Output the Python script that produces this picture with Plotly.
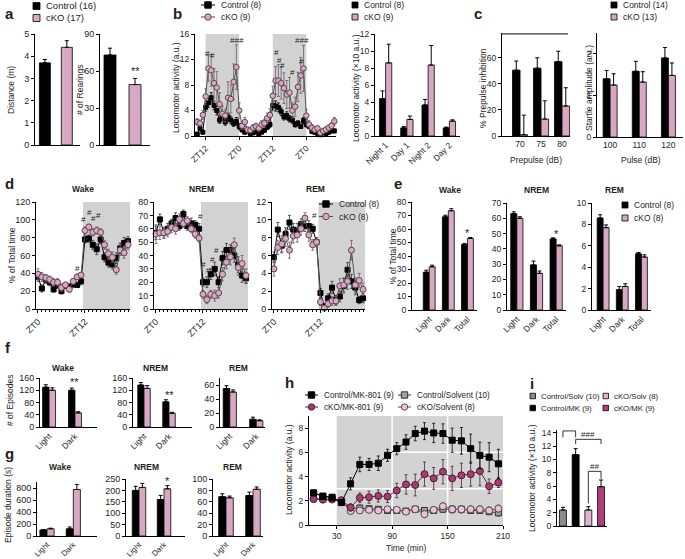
import plotly.graph_objects as go

W, H = 685, 559
FONT = "Liberation Sans, Arial, Helvetica, sans-serif"
TXT = "#1e1e1e"
PINK = "#d8a7c3"
PINK_EDGE = "#5e4652"
SHADE = "#d2d2d2"
TICK = 9
TITLE = 8.5

# ---------------- data ----------------
# a: open field
a_groups = ["Control", "cKO"]
a_distance = [3.7, 4.4]
a_distance_err = [0.15, 0.3]
a_rearings = [73, 49]
a_rearings_err = [5.5, 5.0]

# b: home-cage locomotor activity (hourly)
b_hours = list(range(9, 59))
b_ctrl = [0.3, 1.2, 0.6,
          4.5, 5.2, 6.0, 4.8, 4.0, 2.5, 3.0, 2.2, 3.0, 2.5, 2.0, 2.3, 1.5,
          1.0, 0.6, 0.8, 0.4, 0.5, 0.7, 0.3, 0.6, 0.9, 1.4, 1.8,
          4.8, 4.7, 4.5, 3.8, 3.0, 3.2, 2.7, 2.5, 1.8, 2.0, 1.5, 2.4, 1.8,
          1.5, 0.7, 0.6, 0.4, 0.2, 0.5, 0.4, 0.6, 0.8, 0.8]
b_ctrl_err = [0.2, 0.4, 0.3,
              0.6, 0.7, 0.8, 0.7, 0.7, 0.5, 0.6, 0.5, 0.6, 0.6, 0.5, 0.6, 0.5,
              0.4, 0.3, 0.3, 0.2, 0.3, 0.3, 0.2, 0.3, 0.3, 0.4, 0.5,
              0.7, 0.8, 0.7, 0.6, 0.5, 0.6, 0.5, 0.5, 0.4, 0.4, 0.3, 0.5, 0.4,
              0.4, 0.3, 0.3, 0.2, 0.2, 0.3, 0.2, 0.3, 0.3, 0.3]
b_cko = [2.2, 2.0, 3.3,
         6.2, 10.6, 10.3, 8.3, 7.6, 5.0, 3.5, 3.2, 6.0, 5.8, 8.5, 10.8, 4.0,
         1.6, 2.2, 1.0, 0.9, 1.3, 1.5, 1.2, 1.8, 2.0, 2.8, 3.3,
         6.3, 8.7, 8.7, 8.3, 7.5, 6.5, 6.8, 4.0, 4.6, 7.7, 9.5, 10.6, 3.2,
         1.8, 1.3, 1.0, 1.2, 0.5, 0.8, 1.0, 1.3, 1.6, 2.3]
b_cko_err = [0.5, 0.5, 0.7,
             1.2, 2.0, 2.5, 2.3, 2.5, 1.8, 1.2, 1.0, 2.5, 2.2, 2.8, 3.5, 1.2,
             0.6, 0.7, 0.4, 0.4, 0.5, 0.5, 0.4, 0.6, 0.6, 0.8, 1.0,
             1.5, 2.2, 2.5, 2.5, 2.4, 2.2, 2.4, 1.2, 1.5, 2.3, 2.8, 3.6, 1.0,
             0.6, 0.5, 0.4, 0.4, 0.3, 0.3, 0.4, 0.4, 0.5, 0.6]
b_tickvals = [12, 24, 36, 48]
b_ticktext = ["ZT12", "ZT0", "ZT12", "ZT0"]
b_dark = [(12, 24), (36, 48)]
b_sig = [(12.7, 12.9, "#"), (14.5, 12.6, "#"), (23.3, 15.0, "###"),
         (37.2, 13.1, "#"), (38.4, 11.9, "#"), (39.4, 11.1, "#"),
         (43.2, 9.9, "#"), (46.1, 11.7, "#"), (46.4, 15.0, "###")]

b2_cats = ["Night 1", "Day 1", "Night 2", "Day 2"]
b2_ctrl = [4.4, 0.95, 3.65, 0.95]
b2_ctrl_err = [0.9, 0.15, 0.65, 0.1]
b2_cko = [8.6, 1.95, 8.35, 1.75]
b2_cko_err = [2.2, 0.4, 2.3, 0.15]

# c: prepulse inhibition / startle
c_prepulse = ["70", "75", "80"]
c_ppi_ctrl = [50.5, 52, 57]
c_ppi_ctrl_err = [7, 8, 8]
c_ppi_cko = [1, 13, 23]
c_ppi_cko_err = [15, 14, 14]
c_pulse = ["100", "110", "120"]
c_st_ctrl = [1.4, 1.58, 1.9]
c_st_ctrl_err = [0.2, 0.24, 0.25]
c_st_cko = [1.25, 1.32, 1.48]
c_st_cko_err = [0.27, 0.25, 0.3]

# d: sleep/wake time course
d_zt = list(range(24))
d_wake_ctrl = [36, 23, 33, 30, 22, 27, 20, 26, 25, 28, 27, 31,
               78, 79, 72, 67, 78, 58, 52, 50, 57, 68, 74, 76]
d_wake_cko = [39, 36, 35, 33, 30, 30, 24, 27, 22, 31, 36, 38,
              88, 92, 86, 88, 86, 72, 62, 58, 44, 66, 63, 72]
d_wake_ctrl_err = [5, 4, 4, 4, 3, 4, 3, 3, 3, 4, 3, 4, 4, 4, 5, 6, 5, 5, 5, 5, 6, 6, 6, 5]
d_wake_cko_err = [6, 5, 4, 4, 4, 4, 4, 3, 3, 3, 3, 3, 4, 3, 4, 4, 4, 5, 5, 6, 5, 6, 6, 5]
d_nrem_ctrl = [57, 67, 57, 60, 64, 68, 62, 71, 62, 64, 63, 60,
               20, 20, 26, 30, 20, 38, 44, 44, 40, 33, 25, 23]
d_nrem_cko = [56, 57, 57, 58, 61, 60, 67, 64, 66, 60, 56, 53,
              11, 7, 11, 10, 12, 26, 35, 39, 48, 31, 34, 25]
d_nrem_ctrl_err = [5, 4, 4, 4, 3, 4, 3, 3, 3, 4, 3, 4, 3, 4, 4, 5, 4, 5, 5, 4, 5, 6, 5, 4]
d_nrem_cko_err = [7, 5, 4, 4, 4, 4, 4, 3, 3, 3, 3, 3, 3, 3, 3, 4, 4, 5, 5, 6, 5, 6, 6, 5]
d_rem_ctrl = [5.8, 8.9, 7.1, 8.4, 9.7, 8.9, 8.8, 9.5, 9.3, 9.3, 9.0, 7.5,
              1.8, 0.3, 1.2, 2.4, 1.0, 1.4, 2.6, 4.4, 3.1, 2.4, 1.0, 1.2]
d_rem_cko = [4.5, 6.9, 7.3, 7.9, 6.6, 8.2, 8.3, 9.0, 10.2, 8.3, 7.2, 7.5,
             0.8, 0.1, 0.6, 0.9, 0.9, 2.6, 2.7, 3.1, 6.6, 2.7, 3.2, 2.2]
d_rem_ctrl_err = [0.6, 0.8, 0.8, 0.7, 0.8, 0.7, 0.8, 0.6, 0.6, 0.6, 0.5, 0.5,
                  0.5, 0.3, 0.5, 0.7, 0.5, 0.6, 0.8, 0.8, 0.8, 0.8, 0.4, 0.5]
d_rem_cko_err = [0.8, 0.8, 0.9, 0.9, 0.9, 0.8, 0.8, 0.7, 0.6, 0.7, 0.6, 0.5,
                 0.4, 0.2, 0.4, 0.5, 0.5, 0.8, 0.8, 0.9, 1.1, 0.8, 0.8, 0.7]
d_ticks = [0, 12]
d_ticktext = ["ZT0", "ZT12"]
d_dark = (11.5, 23.5)
d_wake_sig = [(10, 45, "#"), (11.7, 100, "#"), (13.1, 108, "#"), (14.2, 101, "#"), (15.4, 105, "#")]
d_nrem_sig = [(11.4, 69, "#"), (12.2, 33, "#"), (13.4, 29, "#"), (14.4, 37, "#"), (15.5, 44, "#")]
d_rem_sig = [(10.4, 10.5, "#")]

# e: total time
e_cats = ["Light", "Dark", "Total"]
e_wake_ctrl = [28, 69, 48.5]
e_wake_ctrl_err = [1.5, 1.2, 0.8]
e_wake_cko = [32, 73.5, 53]
e_wake_cko_err = [1.2, 1.5, 0.7]
e_nrem_ctrl = [63, 29.5, 46.5]
e_nrem_ctrl_err = [1.2, 2.5, 0.7]
e_nrem_cko = [60, 24, 42]
e_nrem_cko_err = [1.0, 1.5, 0.6]
e_rem_ctrl = [8.6, 1.9, 5.25]
e_rem_ctrl_err = [0.3, 0.3, 0.12]
e_rem_cko = [7.7, 2.2, 4.95]
e_rem_cko_err = [0.25, 0.25, 0.2]

# f: number of episodes
fg_cats = ["Light", "Dark"]
f_wake_ctrl = [130, 120]
f_wake_ctrl_err = [8, 7]
f_wake_cko = [120, 46]
f_wake_cko_err = [8, 4]
f_nrem_ctrl = [137, 82]
f_nrem_ctrl_err = [8, 7]
f_nrem_cko = [126, 45]
f_nrem_cko_err = [9, 3]
f_rem_ctrl = [55, 11]
f_rem_ctrl_err = [4, 3]
f_rem_cko = [50, 9]
f_rem_cko_err = [3, 1.2]

# g: episode duration
g_wake_ctrl = [100, 120]
g_wake_ctrl_err = [8, 30]
g_wake_cko = [120, 775]
g_wake_cko_err = [10, 85]
g_nrem_ctrl = [200, 160]
g_nrem_ctrl_err = [18, 18]
g_nrem_cko = [213, 207]
g_nrem_cko_err = [18, 14]
g_rem_ctrl = [69, 71]
g_rem_ctrl_err = [5, 6]
g_rem_cko = [67, 82]
g_rem_cko_err = [3, 4]

# h: MK-801 time course
h_time = [5, 15, 25, 35, 45, 55, 65, 75, 85, 95, 105, 115, 125, 135, 145, 155, 165, 175, 185, 195, 205]
h_ctrl_mk = [2.65, 2.35, 2.25, 1.85, 3.4, 5.0, 5.0, 5.1, 5.75, 6.3, 6.85, 7.55, 7.75, 7.6, 7.55, 7.0, 6.95, 6.3, 5.75, 5.6, 5.05]
h_ctrl_mk_err = [0.2, 0.2, 0.15, 0.15, 0.5, 0.6, 0.5, 0.6, 0.5, 0.5, 0.6, 0.6, 0.7, 0.8, 0.8, 1.0, 1.1, 1.2, 1.1, 1.2, 1.2]
h_cko_mk = [2.15, 2.1, 2.15, 2.05, 1.45, 2.25, 2.3, 2.4, 2.35, 2.85, 3.35, 3.3, 4.2, 3.85, 4.4, 3.85, 4.1, 4.2, 4.45, 3.2, 3.5]
h_cko_mk_err = [0.15, 0.15, 0.15, 0.15, 0.3, 0.4, 0.5, 0.5, 0.5, 0.6, 0.8, 0.9, 1.0, 0.9, 1.0, 1.0, 1.0, 1.0, 1.2, 0.6, 0.4]
h_ctrl_solv = [2.65, 2.4, 2.3, 1.9, 1.35, 1.4, 1.35, 1.3, 1.2, 1.2, 1.15, 1.3, 1.2, 1.2, 1.3, 1.3, 1.3, 1.2, 1.2, 1.1, 1.0]
h_ctrl_solv_err = [0.15, 0.15, 0.15, 0.15, 0.15, 0.25, 0.2, 0.2, 0.2, 0.2, 0.2, 0.2, 0.2, 0.25, 0.25, 0.3, 0.3, 0.25, 0.25, 0.25, 0.25]
h_cko_solv = [2.15, 2.1, 2.1, 2.0, 1.15, 1.2, 1.25, 1.2, 1.3, 1.25, 1.1, 1.3, 0.9, 1.25, 1.55, 1.3, 1.3, 1.3, 1.3, 1.2, 1.35]
h_cko_solv_err = [0.15, 0.15, 0.15, 0.15, 0.15, 0.2, 0.2, 0.2, 0.2, 0.2, 0.2, 0.25, 0.3, 0.25, 0.3, 0.3, 0.3, 0.3, 0.3, 0.3, 0.3]
h_shade = (30, 210)
h_ticks = [30, 90, 150, 210]

# i: summed activity
i_cats = ["Control/Solv", "Control/MK", "cKO/Solv", "cKO/MK"]
i_vals = [2.4, 10.7, 2.4, 5.9]
i_err = [0.4, 0.9, 0.5, 1.0]
i_colors = ["#8c8c8c", "#000000", "#e0b4cd", "#b23e7c"]
i_brackets = [((0, 13.3), (0, 14.26), (1, 14.26), (1, 13.3)),
              ((1, 12.3), (1, 13.0), (3, 13.0), (3, 12.3)),
              ((2, 3.4), (2, 8.2), (3, 8.2), (3, 7.1))]
i_sig = [(0.5, 15.1, "###"), (2.0, 13.8, "###"), (2.5, 8.9, "##")]

# ---------------- helpers ----------------
fig = go.Figure()
LAYOUT = {}
SHAPES = []
ANNS = []
_n = [0]


def px(x):
    return x / W


def py(y):
    return 1 - y / H


def axes(box, xr, yr, xkw=None, ykw=None, tsize=TICK):
    x0, x1, y0, y1 = box
    _n[0] += 1
    n = _n[0]
    sfx = "" if n == 1 else str(n)
    xid, yid = "x" + sfx, "y" + sfx
    base = dict(showline=True, linecolor="black", linewidth=1, ticks="outside",
                ticklen=3, tickwidth=1, tickcolor="black", showgrid=False,
                zeroline=False, fixedrange=True, automargin=False,
                tickfont=dict(size=tsize, color=TXT, family=FONT))
    xa = dict(base, domain=[px(x0), px(x1)], range=xr, anchor=yid)
    ya = dict(base, domain=[py(y1), py(y0)], range=yr, anchor=xid)
    if xkw:
        xa.update(xkw)
    if ykw:
        ya.update(ykw)
    LAYOUT["xaxis" + sfx] = xa
    LAYOUT["yaxis" + sfx] = ya
    return xid, yid


def text(x, y, s, size=TITLE, bold=False, angle=0, xa="center", ya="middle", color=TXT):
    ANNS.append(dict(x=px(x), y=py(y), xref="paper", yref="paper",
                     text=("<b>%s</b>" % s) if bold else s, showarrow=False,
                     font=dict(size=size, family=FONT, color=color),
                     textangle=angle, xanchor=xa, yanchor=ya))


def dtext(xid, yid, x, y, s, size=9):
    ANNS.append(dict(x=x, y=y, xref=xid, yref=yid, text=s, showarrow=False,
                     font=dict(size=size, family=FONT, color=TXT),
                     xanchor="center", yanchor="middle"))


def legend(x, y, items, dy=12.5, size=8.5, sq=6, lw=14):
    for i, (label, kind, fill, edge) in enumerate(items):
        yy = y + i * dy
        if kind == "sq":
            SHAPES.append(dict(type="rect", xref="paper", yref="paper",
                               x0=px(x), x1=px(x + sq), y0=py(yy + sq / 2), y1=py(yy - sq / 2),
                               fillcolor=fill, line=dict(color="black", width=0.8)))
            text(x + sq + 3.5, yy, label, size=size, xa="left")
        else:
            SHAPES.append(dict(type="line", xref="paper", yref="paper",
                               x0=px(x), x1=px(x + lw), y0=py(yy), y1=py(yy),
                               line=dict(color=edge, width=1)))
            s = 3.2
            c = x + lw / 2
            SHAPES.append(dict(type="rect" if kind == "lsq" else "circle",
                               xref="paper", yref="paper",
                               x0=px(c - s), x1=px(c + s), y0=py(yy + s), y1=py(yy - s),
                               fillcolor=fill, line=dict(color=edge, width=1)))
            text(x + lw + 4, yy, label, size=size, xa="left")


def bars(xid, yid, cats, series, bw):
    n = len(series)
    for k, (vals, errs, color) in enumerate(series):
        fig.add_trace(go.Bar(
            x=cats, y=vals, xaxis=xid, yaxis=yid, width=bw, offset=-n * bw / 2 + k * bw,
            marker=dict(color=color, line=dict(color="black", width=0.8)),
            error_y=dict(type="data", array=errs, arrayminus=[0] * len(errs),
                         symmetric=False, color="black", thickness=1, width=2),
            showlegend=False, hoverinfo="skip"))


def colorbars(xid, yid, cats, vals, errs, colors, bw):
    fig.add_trace(go.Bar(
        x=cats, y=vals, xaxis=xid, yaxis=yid, width=bw, offset=-bw / 2,
        marker=dict(color=colors, line=dict(color="black", width=0.8)),
        error_y=dict(type="data", array=errs, arrayminus=[0] * len(errs),
                     symmetric=False, color="black", thickness=1, width=2),
        showlegend=False, hoverinfo="skip"))


def line(xid, yid, x, y, err, lcolor, symbol, fill, edge, size, ecolor):
    fig.add_trace(go.Scatter(
        x=x, y=y, xaxis=xid, yaxis=yid, mode="lines+markers",
        line=dict(color=lcolor, width=1),
        marker=dict(symbol=symbol, size=size, color=fill, line=dict(color=edge, width=1)),
        error_y=dict(type="data", array=err, color=ecolor, thickness=0.8, width=1.5),
        showlegend=False, hoverinfo="skip", cliponaxis=False))


def shade(xid, yid, x0, x1, color=SHADE):
    SHAPES.append(dict(type="rect", xref=xid, yref=yid + " domain", x0=x0, x1=x1, y0=0, y1=1,
                       fillcolor=color, line=dict(width=0), layer="below"))


CAT_NOTICK = dict(type="category", showticklabels=False, ticks="")
CAT_ROT = dict(type="category", tickangle=-45, ticks="")

# ---------------- panel a ----------------
xa1, ya1 = axes((35, 80, 34, 145), [-0.45, 1.6], [0, 5], xkw=CAT_NOTICK, ykw=dict(dtick=1))
colorbars(xa1, ya1, a_groups, a_distance, a_distance_err, ["black", PINK], 0.5)
xa2, ya2 = axes((100, 150, 34, 145), [-0.4, 1.6], [0, 90], xkw=CAT_NOTICK, ykw=dict(dtick=30))
colorbars(xa2, ya2, a_groups, a_rearings, a_rearings_err, ["black", PINK], 0.48)
dtext(xa2, ya2, 1, 60, "**", 11)
text(3, 13, "a", 15, True, xa="left")
text(11, 90, "Distance (m)", angle=-90)
text(80, 90, "# of Rearings", angle=-90)
legend(33, 6, [("Control (16)", "sq", "black", "black"), ("cKO (17)", "sq", PINK, "black")],
       dy=12, size=9.5, sq=7)

# ---------------- panel b ----------------
xb1, yb1 = axes((195, 336, 34, 136), [8.2, 58.6], [0, 16],
                xkw=dict(tickmode="array", tickvals=b_tickvals, ticktext=b_ticktext, tickangle=-45),
                ykw=dict(dtick=4), tsize=8.5)
for (s0, s1) in b_dark:
    shade(xb1, yb1, s0, s1)
line(xb1, yb1, b_hours, b_ctrl, b_ctrl_err, "black", "square", "black", "black", 4, "black")
line(xb1, yb1, b_hours, b_cko, b_cko_err, "#555555", "circle", PINK, PINK_EDGE, 5.5, "#6a5a62")
for (x, y, s) in b_sig:
    dtext(xb1, yb1, x, y, s, 8)
text(171, 13, "b", 15, True, xa="left")
text(176, 88, "Locomotor activity (a.u.)", angle=-90)
legend(201, 5, [("Control (8)", "lsq", "black", "black"), ("cKO (9)", "lci", PINK, PINK_EDGE)], dy=12)

xb2, yb2 = axes((375, 460, 34, 136), [-0.5, 3.5], [0, 12], xkw=CAT_ROT, ykw=dict(dtick=2), tsize=8.5)
bars(xb2, yb2, b2_cats, [(b2_ctrl, b2_ctrl_err, "black"), (b2_cko, b2_cko_err, PINK)], 0.29)
text(356, 88, "Locomotor activity (\u00d710 a.u.)", angle=-90)
legend(352, 5, [("Control (8)", "sq", "black", "black"), ("cKO (9)", "sq", PINK, "black")], dy=12)

# ---------------- panel c ----------------
xc1, yc1 = axes((502, 570, 33, 136), [-0.86, 2.38], [0, 79], xkw=dict(type="category", ticks=""),
                ykw=dict(tickvals=[0, 20, 40, 60]), tsize=8.5)
bars(xc1, yc1, c_prepulse, [(c_ppi_ctrl, c_ppi_ctrl_err, "black"), (c_ppi_cko, c_ppi_cko_err, PINK)], 0.36)
SHAPES.append(dict(type="line", xref=xc1 + " domain", yref=yc1, x0=0, x1=0.97, y0=78.3, y1=78.3,
                   line=dict(color="black", width=1)))
dtext(xc1, yc1, 1.3, 83, "\u2020\u2020", 9)
text(472, 13, "c", 15, True, xa="left")
text(483, 88, "% Prepulse inhibition", angle=-90)
text(536, 160, "Prepulse (dB)")

xc2, yc2 = axes((597, 683, 33, 137), [-0.45, 2.5], [0, 2.5], xkw=dict(type="category", ticks=""),
                ykw=dict(tickvals=[0, 1, 2]), tsize=8.5)
bars(xc2, yc2, c_pulse, [(c_st_ctrl, c_st_ctrl_err, "black"), (c_st_cko, c_st_cko_err, PINK)], 0.24)
text(589, 88, "Startle amplitude (a.u.)", angle=-90)
text(641, 160, "Pulse (dB)")
legend(611, 5, [("Control (14)", "sq", "black", "black"), ("cKO (13)", "sq", PINK, "black")], dy=12)

# ---------------- panel d ----------------
d_xkw = dict(tickmode="array", tickvals=d_ticks, ticktext=d_ticktext, tickangle=-45,
             minor=dict(ticks="outside", ticklen=2, tickmode="linear", tick0=0, dtick=1,
                        tickcolor="black"))
d_specs = [
    ((36, 130, 202, 309), [0, 120], 20, d_wake_ctrl, d_wake_ctrl_err, d_wake_cko, d_wake_cko_err, d_wake_sig, "Wake", 83),
    ((154, 248, 202, 309), [0, 80], 10, d_nrem_ctrl, d_nrem_ctrl_err, d_nrem_cko, d_nrem_cko_err, d_nrem_sig, "NREM", 201),
    ((272, 365, 202, 309), [0, 12], 2, d_rem_ctrl, d_rem_ctrl_err, d_rem_cko, d_rem_cko_err, d_rem_sig, "REM", 315),
]
for (box, yr, dt, yc, ycerr, yk, ykerr, sig, title, tx) in d_specs:
    xid, yid = axes(box, [-0.5, 23.5], yr, xkw=d_xkw, ykw=dict(dtick=dt))
    shade(xid, yid, d_dark[0], d_dark[1])
    line(xid, yid, d_zt, yc, ycerr, "black", "square", "black", "black", 5, "#333333")
    line(xid, yid, d_zt, yk, ykerr, "#555555", "circle", PINK, PINK_EDGE, 6, "#6a5a62")
    for (x, y, s) in sig:
        dtext(xid, yid, x, y, s, 8)
    text(tx, 189, title, 8.5, True)
text(3, 184, "d", 15, True, xa="left")
text(12, 255, "% of Total time", angle=-90)
legend(319, 204, [("Control (8)", "lsq", "black", "black"), ("cKO (8)", "lci", PINK, PINK_EDGE)], dy=12.5)

# ---------------- panel e ----------------
e_specs = [
    ((412, 477, 202, 310), [-0.9, 2.5], [0, 80], 10, e_wake_ctrl, e_wake_ctrl_err, e_wake_cko, e_wake_cko_err, 57, "Wake", 450),
    ((507, 566, 203, 310), [-0.5, 2.5], [0, 70], 10, e_nrem_ctrl, e_nrem_ctrl_err, e_nrem_cko, e_nrem_cko_err, 50, "NREM", 536),
    ((592, 651, 203, 310), [-0.58, 2.5], [0, 10], 2, e_rem_ctrl, e_rem_ctrl_err, e_rem_cko, e_rem_cko_err, None, "REM", 614),
]
for (box, xr, yr, dt, yc, ycerr, yk, ykerr, star, title, tx) in e_specs:
    xid, yid = axes(box, xr, yr, xkw=CAT_ROT, ykw=dict(dtick=dt), tsize=8.5)
    bars(xid, yid, e_cats, [(yc, ycerr, "black"), (yk, ykerr, PINK)], 0.31)
    if star is not None:
        dtext(xid, yid, 2, star, "*", 11)
    text(tx, 190, title, 8.5, True)
text(392, 184, "e", 15, True, xa="left")
text(393, 256, "% of Total time", angle=-90)
legend(622, 205, [("Control (8)", "sq", "black", "black"), ("cKO (8)", "sq", PINK, "black")], dy=13)

# ---------------- panel f ----------------
f_specs = [
    ((40, 97, 378, 427), [-0.35, 1.85], [0, 160], 40, f_wake_ctrl, f_wake_ctrl_err, f_wake_cko, f_wake_cko_err, (1, 148, "**"), "Wake", 63),
    ((133, 192, 378, 427), [-0.44, 1.92], [0, 160], 40, f_nrem_ctrl, f_nrem_ctrl_err, f_nrem_cko, f_nrem_cko_err, (1, 105, "**"), "NREM", 155),
    ((220, 265, 378, 427), [-0.37, 1.33], [0, 70], 20, f_rem_ctrl, f_rem_ctrl_err, f_rem_cko, f_rem_cko_err, None, "REM", 239),
]
for (box, xr, yr, dt, yc, ycerr, yk, ykerr, sig, title, tx) in f_specs:
    xid, yid = axes(box, xr, yr, xkw=dict(CAT_ROT, tickfont=dict(size=8.5, color=TXT, family=FONT)),
                    ykw=dict(dtick=dt))
    bars(xid, yid, fg_cats, [(yc, ycerr, "black"), (yk, ykerr, PINK)], 0.25)
    if sig:
        dtext(xid, yid, sig[0], sig[1], sig[2], 11)
    text(tx, 368, title, 8.5, True)
text(3, 347, "f", 15, True, xa="left")
text(10, 400, "# of Episodes", angle=-90)

# ---------------- panel g ----------------
g_specs = [
    ((37, 97, 482, 536), [-0.38, 1.9], [0, 900], 200, g_wake_ctrl, g_wake_ctrl_err, g_wake_cko, g_wake_cko_err, (1.13, 950, "**"), "Wake", 60),
    ((126, 185, 479, 536), [-0.52, 1.84], [0, 250], 50, g_nrem_ctrl, g_nrem_ctrl_err, g_nrem_cko, g_nrem_cko_err, (1.13, 240, "*"), "NREM", 146),
    ((213, 263, 479, 536), [-0.48, 1.37], [0, 100], 20, g_rem_ctrl, g_rem_ctrl_err, g_rem_cko, g_rem_cko_err, None, "REM", 232),
]
for (box, xr, yr, dt, yc, ycerr, yk, ykerr, sig, title, tx) in g_specs:
    xid, yid = axes(box, xr, yr, xkw=dict(CAT_ROT, tickfont=dict(size=7.8, color=TXT, family=FONT)),
                    ykw=dict(dtick=dt))
    bars(xid, yid, fg_cats, [(yc, ycerr, "black"), (yk, ykerr, PINK)], 0.27)
    if sig:
        dtext(xid, yid, sig[0], sig[1], sig[2], 11)
    text(tx, 467, title, 8.5, True)
text(3, 453, "g", 15, True, xa="left")
text(8, 505, "Episode duration (s)", angle=-90)

# ---------------- panel h ----------------
xh, yh = axes((309, 503, 416, 525), [0, 210], [0, 9],
              xkw=dict(tickvals=h_ticks), ykw=dict(dtick=2), tsize=8.5)
shade(xh, yh, h_shade[0], h_shade[1], "#d3d3d3")
for xv in [90, 150]:
    SHAPES.append(dict(type="line", xref=xh, yref=yh + " domain", x0=xv, x1=xv, y0=0, y1=1,
                       line=dict(color="white", width=1.5), layer="below"))
SHAPES.append(dict(type="line", xref=xh, yref=yh, x0=90, x1=210, y0=6, y1=6,
                   line=dict(color="white", width=1.5), layer="below"))
SHAPES.append(dict(type="line", xref=xh, yref=yh, x0=30, x1=210, y0=3, y1=3,
                   line=dict(color="white", width=1.5), layer="below"))
line(xh, yh, h_time, h_ctrl_solv, h_ctrl_solv_err, "#444444", "square", "#a0a0a0", "#333333", 6, "#333333")
line(xh, yh, h_time, h_cko_solv, h_cko_solv_err, "#6a5a62", "circle", "#e8c4d8", PINK_EDGE, 7, "#6a5a62")
line(xh, yh, h_time, h_cko_mk, h_cko_mk_err, "#5a2540", "circle", "#a53d72", "#4a1d33", 7, "#4a1d33")
line(xh, yh, h_time, h_ctrl_mk, h_ctrl_mk_err, "black", "square", "black", "black", 6, "black")
text(283, 382, "h", 15, True, xa="left")
text(289, 470, "Locomotor activity (a.u.)", angle=-90)
text(406, 548, "Time (min)")
legend(305, 395, [("Control/MK-801 (9)", "lsq", "black", "black"),
                  ("cKO/MK-801 (9)", "lci", "#a53d72", "#4a1d33")], dy=12, size=8.2, lw=13)
legend(398, 395, [("Control/Solvent (10)", "lsq", "#a0a0a0", "#333333"),
                  ("cKO/Solvent (8)", "lci", "#e8c4d8", PINK_EDGE)], dy=12, size=8.2, lw=13)

# ---------------- panel i ----------------
xi, yi = axes((557, 607, 430, 526), [-0.47, 3.47], [0, 14.4], xkw=CAT_NOTICK, ykw=dict(dtick=2),
              tsize=8.5)
colorbars(xi, yi, i_cats, i_vals, i_err, i_colors, 0.55)
for br in i_brackets:
    for (p0, p1) in zip(br[:-1], br[1:]):
        SHAPES.append(dict(type="line", xref=xi, yref=yi, x0=p0[0], y0=p0[1], x1=p1[0], y1=p1[1],
                           line=dict(color="black", width=0.8)))
for (x, y, s) in i_sig:
    dtext(xi, yi, x, y, s, 8)
text(528, 383, "i", 15, True, xa="left")
text(532, 478, "Locomotor activity (\u00d710 a.u.)", angle=-90)
legend(530, 396, [("Control/Solv (10)", "sq", i_colors[0], "black"),
                  ("Control/MK (9)", "sq", i_colors[1], "black")], dy=12, size=7.8, sq=5.5)
legend(603, 396, [("cKO/Solv (8)", "sq", i_colors[2], "black"),
                  ("cKO/MK (9)", "sq", i_colors[3], "black")], dy=12, size=7.8, sq=5.5)

# ---------------- layout ----------------
fig.update_layout(
    template="none",
    width=W, height=H, autosize=False,
    margin=dict(l=0, r=0, t=0, b=0, pad=0),
    paper_bgcolor="white", plot_bgcolor="rgba(0,0,0,0)",
    barmode="overlay", showlegend=False,
    font=dict(family=FONT, size=9, color=TXT),
    shapes=SHAPES, annotations=ANNS,
    **LAYOUT,
)
fig.write_html(
    "out.html",
    config={"displayModeBar": False, "staticPlot": True},
    post_script="document.body.style.margin='0px';document.body.style.padding='0px';"
                "document.documentElement.style.overflow='hidden';",
)
